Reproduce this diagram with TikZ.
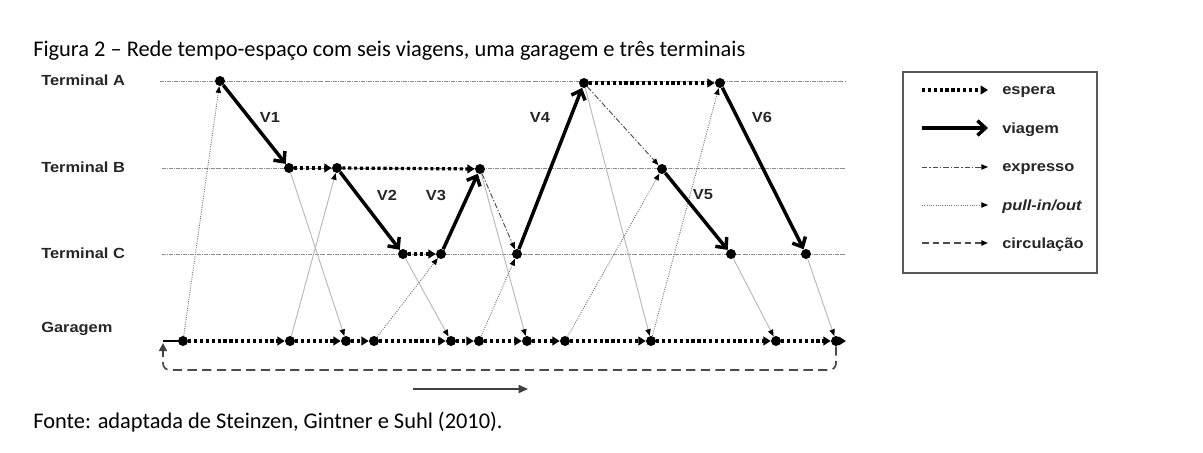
\documentclass[tikz,border=0pt]{standalone}
\usepackage{fontspec}
\setmainfont{Carlito}
\newfontfamily\labfont{Liberation Sans}
\usetikzlibrary{arrows.meta}
\newcommand\wideT[1]{\scalebox{1.12}[1]{#1}}
\begin{document}
\begin{tikzpicture}[x=0.75pt,y=-0.75pt,
  ev/.style={circle,fill=black,inner sep=0pt,minimum size=7.5pt},
  lbl/.style={font=\labfont\bfseries\fontsize{11}{13}\selectfont,inner sep=0pt,text=black!85},
  term/.style={lbl,anchor=west},
  tline/.style={black!45,line width=0.6pt,dash pattern=on 3pt off 0.8pt on 0.6pt off 0.8pt},
  wait/.style={line width=2.4pt,dash pattern=on 2.4pt off 2pt,-{Triangle[length=5.5pt,width=6.5pt]}},
  trip/.style={line width=2.6pt,-{Straight Barb[length=6pt,width=11pt]}},
  expr/.style={line width=0.7pt,black!70,dash pattern=on 4pt off 1.5pt on 1pt off 1.5pt,-{Triangle[length=5pt,width=4pt,color=black]}},
  pout/.style={line width=0.7pt,black!55,densely dotted,-{Triangle[length=5pt,width=4pt,color=black]}},
  pin/.style={line width=0.7pt,black!28,-{Triangle[length=5pt,width=4pt,color=black]}},
  circ/.style={line width=1.3pt,black!70,dash pattern=on 7pt off 4pt},
  txt/.style={anchor=base west,inner sep=0pt,font=\fontsize{16.8}{19}\selectfont}]
\useasboundingbox (0,0) rectangle (1203,453);

% title and source
\node[txt] (title) at (33,57) {Figura 2 – Rede tempo-espaço com seis viagens, uma garagem e três terminais};
\node[txt] (fonte) at (33,428) {Fonte: adaptada de Steinzen, Gintner e Suhl (2010).};

% terminal labels
\node[term] (lA) at (41,80) {\wideT{Terminal A}};
\node[term] (lB) at (41,167) {\wideT{Terminal B}};
\node[term] (lC) at (41,253) {\wideT{Terminal C}};
\node[term] (lG) at (41,329) {\wideT{Garagem}};

% terminal lines
\coordinate (Ah0) at (160,81); \coordinate (Ah1) at (845,81);
\coordinate (Bh0) at (162,168); \coordinate (Bh1) at (845,168);
\coordinate (Ch0) at (162,254); \coordinate (Ch1) at (845,254);
\draw[tline] (Ah0) -- (Ah1);
\draw[tline] (Bh0) -- (Bh1);
\draw[tline] (Ch0) -- (Ch1);

% events
\node[ev] (a1) at (220,81) {};
\node[ev] (a2) at (584,83) {};
\node[ev] (a3) at (720,83) {};
\node[ev] (b1) at (289,168) {};
\node[ev] (b2) at (337,168) {};
\node[ev] (b3) at (480,169) {};
\node[ev] (b4) at (662,169) {};
\node[ev] (c1) at (403,254) {};
\node[ev] (c2) at (441,254) {};
\node[ev] (c3) at (517,254) {};
\node[ev] (c4) at (731,254) {};
\node[ev] (c5) at (806,254) {};
\node[ev] (g1) at (183,341) {};
\node[ev] (g2) at (290,341) {};
\node[ev] (g3) at (346,341) {};
\node[ev] (g4) at (374,341) {};
\node[ev] (g5) at (451,341) {};
\node[ev] (g6) at (479,341) {};
\node[ev] (g7) at (527,341) {};
\node[ev] (g8) at (565,341) {};
\node[ev] (g9) at (651,341) {};
\node[ev] (g10) at (776,341) {};
\node[ev] (g11) at (836,341) {};

% pull-in / pull-out
\draw[pout] (g1) -- (a1);
\draw[pin] (b1) -- (g3);
\draw[pin] (g2) -- (b2);
\draw[pin] (c1) -- (g5);
\draw[pout] (g4) -- (c2);
\draw[pin] (b3) -- (g7);
\draw[pout] (g6) -- (c3);
\draw[pin] (a2) -- (g9);
\draw[pout] (g8) -- (b4);
\draw[pout] (g9) -- (a3);
\draw[pin] (c4) -- (g10);
\draw[pin] (c5) -- (g11);

% expresso
\draw[expr] (b3) -- (c3);
\draw[expr] (a2) -- (b4);

% waiting
\draw[wait] (b1) -- (b2);
\draw[wait] (b2) -- (b3);
\draw[wait] (c1) -- (c2);
\draw[wait] (a2) -- (a3);
\foreach \p/\q in {g1/g2,g2/g3,g3/g4,g4/g5,g5/g6,g6/g7,g7/g8,g8/g9,g9/g10,g10/g11}
  \draw[wait] (\p) -- (\q);
\coordinate (gend) at (846,341);
\draw[wait] (g11) -- (gend);

% trips
\draw[trip] (a1) -- (b1);
\draw[trip] (b2) -- (c1);
\draw[trip] (c2) -- (b3);
\draw[trip] (c3) -- (a2);
\draw[trip] (b4) -- (c4);
\draw[trip] (a3) -- (c5);

\node[lbl] (v1) at (270,117) {\wideT{V1}};
\node[lbl] (v2) at (387,195) {\wideT{V2}};
\node[lbl] (v3) at (436,195) {\wideT{V3}};
\node[lbl] (v4) at (540,117) {\wideT{V4}};
\node[lbl] (v5) at (703,195) {\wideT{V5}};
\node[lbl] (v6) at (762,117) {\wideT{V6}};

% circulation
\coordinate (cr1) at (836,370);
\coordinate (cl1) at (163,370);
\coordinate (cl2) at (163,356);
\coordinate (cl3) at (163,343);
\coordinate (cl4) at (163,341);
\draw[circ,rounded corners=5pt] (g11.south) -- (cr1) -- (cl1) -- (cl2);
\draw[line width=1.3pt,black!75,-{Triangle[length=6pt,width=6pt]}] (cl2) -- (cl3);
\draw[line width=0.8pt] (cl4) -- (g1);

% time arrow
\coordinate (t1) at (413,389);
\coordinate (t2) at (528,389);
\draw[line width=1.3pt,black!75,-{Triangle[length=7pt,width=6pt]}] (t1) -- (t2);

% legend
\node[draw=black!65,line width=1.2pt,minimum width=194*0.75pt,minimum height=201*0.75pt,inner sep=0pt] (leg) at (1000,172.5) {};
\coordinate (l1a) at (922,90);  \coordinate (l1b) at (988,90);
\coordinate (l2a) at (922,128); \coordinate (l2b) at (988,128);
\coordinate (l3a) at (922,167); \coordinate (l3b) at (988,167);
\coordinate (l4a) at (922,205); \coordinate (l4b) at (988,205);
\coordinate (l5a) at (922,243); \coordinate (l5b) at (988,243);
\draw[wait] (l1a) -- (l1b);
\draw[trip] (l2a) -- (l2b);
\draw[expr] (l3a) -- (l3b);
\draw[pout] (l4a) -- (l4b);
\draw[circ,line width=1pt,dash pattern=on 5pt off 3pt,-{Triangle[length=5pt,width=4pt,color=black]}] (l5a) -- (l5b);
\node[term] (e1) at (1002,92) {\wideT{espera}};
\node[term] (e2) at (1002,130) {\wideT{viagem}};
\node[term] (e3) at (1002,169) {\wideT{expresso}};
\node[term] (e4) at (1002,207) {\wideT{\itshape pull-in/out}};
\node[term] (e5) at (1002,245) {\wideT{circulação}};
\end{tikzpicture}
\end{document}
